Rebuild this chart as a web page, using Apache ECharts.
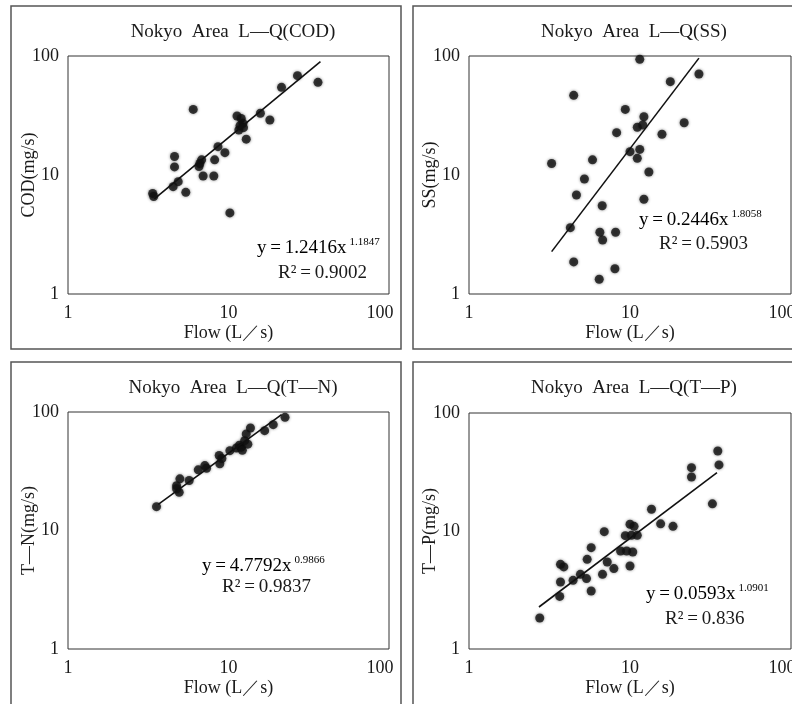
<!DOCTYPE html>
<html><head><meta charset="utf-8">
<script src="https://cdn.jsdelivr.net/npm/echarts@6/dist/echarts.min.js"></script>
<style>html,body{margin:0;padding:0;background:#fff}#c{width:792px;height:704px}</style>
</head><body><div id="c"></div>
<script>
// ---- data ----
const axisTicks = [1, 10, 100];
const titles = ['Nokyo  Area  L\u2014Q(COD)', 'Nokyo  Area  L\u2014Q(SS)', 'Nokyo  Area  L\u2014Q(T\u2014N)', 'Nokyo  Area  L\u2014Q(T\u2014P)'];
const yNames = ['COD(mg/s)', 'SS(mg/s)', 'T\u2014N(mg/s)', 'T\u2014P(mg/s)'];
const xName = 'Flow (L\uff0fs)';

const codFlow = [3.37, 3.42, 4.61, 4.61, 4.52, 4.86, 5.42, 6.03, 6.63, 6.8, 6.95, 6.55, 8.1, 8.2, 8.6, 9.5, 10.2, 11.3, 11.6, 12.0, 12.3, 11.8, 12.4, 12.9, 15.8, 18.1, 21.4, 26.9, 36.1];
const codLoad = [7.0, 6.6, 14.3, 11.7, 7.98, 8.79, 7.15, 35.6, 12.5, 13.4, 9.8, 11.8, 9.8, 13.4, 17.3, 15.4, 4.8, 31.3, 23.9, 29.9, 27.2, 26.0, 25.0, 20.0, 33.0, 29.0, 54.5, 68.4, 60.1];
const codTrend = [[3.45, 6.3], [37.4, 89.6]];

const ssFlow = [11.5, 26.8, 17.8, 4.47, 9.35, 12.2, 21.7, 11.1, 12.0, 8.26, 15.8, 10.0, 11.5, 11.1, 5.85, 3.26, 13.1, 5.21, 4.65, 12.2, 6.72, 4.26, 6.50, 8.14, 6.76, 4.47, 8.06, 6.44];
const ssLoad = [93.7, 70.6, 60.9, 46.7, 35.6, 30.9, 27.5, 25.2, 26.3, 22.7, 22.0, 15.7, 16.4, 13.8, 13.4, 12.5, 10.6, 9.25, 6.79, 6.25, 5.52, 3.61, 3.30, 3.30, 2.84, 1.86, 1.63, 1.33];
const ssTrend = [[3.26, 2.27], [26.8, 96]];

const tnFlow = [3.56, 4.75, 4.98, 4.93, 4.75, 5.69, 6.48, 7.12, 7.3, 8.75, 8.83, 9.1, 10.2, 11.2, 12.0, 11.7, 12.6, 12.9, 12.2, 13.2, 13.7, 16.8, 19.0, 22.5];
const tnLoad = [15.9, 23.9, 27.3, 21.0, 22.5, 26.4, 32.5, 35.3, 33.5, 42.9, 36.5, 40.5, 47.2, 49.7, 50.5, 52.5, 57.3, 65.3, 47.5, 53.5, 73.3, 69.6, 78.2, 90.2];
const tnTrend = [[3.65, 16.6], [21.4, 95.0]];

const tpFlow = [2.75, 3.66, 3.70, 3.70, 3.88, 4.43, 4.92, 5.37, 5.42, 5.74, 5.74, 6.75, 6.92, 7.22, 7.94, 8.74, 9.35, 9.53, 10.0, 10.0, 10.4, 10.2, 10.6, 11.1, 13.6, 15.5, 18.5, 24.1, 24.1, 32.5, 35.1, 35.7];
const tpLoad = [1.83, 2.79, 3.70, 5.22, 4.96, 3.82, 4.29, 3.95, 5.75, 3.10, 7.22, 4.29, 9.87, 5.46, 4.80, 6.77, 9.13, 6.77, 5.05, 11.4, 6.64, 9.19, 10.95, 9.19, 15.3, 11.5, 10.95, 34.4, 28.7, 17.0, 47.6, 36.3];
const tpTrend = [[2.72, 2.27], [34.7, 31.2]];

const eqMain = ['y\u2009=\u20091.2416x', 'y\u2009=\u20090.2446x', 'y\u2009=\u20094.7792x', 'y\u2009=\u20090.0593x'];
const eqExp = ['1.1847', '1.8058', '0.9866', '1.0901'];
const eqR2 = ['R\u00b2\u2009=\u20090.9002', 'R\u00b2\u2009=\u20090.5903', 'R\u00b2\u2009=\u20090.9837', 'R\u00b2\u2009=\u20090.836'];

// ---- layout ----
const FONT = '"Liberation Serif", "Times New Roman", serif';
const grids = [
  {left: 68, top: 56, width: 321, height: 238},
  {left: 469, top: 56, width: 322, height: 238},
  {left: 68, top: 412, width: 321, height: 237},
  {left: 469, top: 413, width: 322, height: 236}
];
const titlePos = [[228, 18], [629, 18], [228, 374], [629, 374]];
const eqPos = [[257, 248, 278, 273], [639, 220, 659, 244], [202, 566, 222, 587], [646, 594, 665, 619]];
const boxes = [[11, 6, 390, 343], [413, 6, 400, 343], [11, 362, 390, 360], [413, 362, 400, 360]];

const scatterSets = [[codFlow, codLoad], [ssFlow, ssLoad], [tnFlow, tnLoad], [tpFlow, tpLoad]];
const trends = [codTrend, ssTrend, tnTrend, tpTrend];

const zip = (a, b) => a.map((v, i) => [v, b[i]]);

const option = {
  animation: false,
  backgroundColor: '#fff',
  title: titles.map((t, i) => ({
    text: t, left: titlePos[i][0], top: titlePos[i][1], textAlign: 'center',
    textStyle: {fontFamily: FONT, fontSize: 19, fontWeight: 'normal', color: '#1a1a1a'}
  })),
  grid: grids.map(g => Object.assign({show: true, borderColor: '#333', borderWidth: 1, backgroundColor: 'transparent', containLabel: false, outerBoundsMode: 'none'}, g)),
  xAxis: grids.map((g, i) => ({
    type: 'log', logBase: 10, min: axisTicks[0], max: axisTicks[2], gridIndex: i,
    name: xName, nameLocation: 'middle', nameGap: 30, nameMoveOverlap: false,
    nameTextStyle: {fontFamily: FONT, fontSize: 18, color: '#1a1a1a'},
    axisLine: {show: false}, axisTick: {show: false}, splitLine: {show: false},
    axisLabel: {
      fontFamily: FONT, fontSize: 18, color: '#1a1a1a', margin: 10, showMaxLabel: true, showMinLabel: true,
      formatter: v => (v === axisTicks[2] ? '{r|' + v + '}' : '' + v),
      rich: {r: {fontFamily: FONT, fontSize: 18, color: '#1a1a1a', padding: [0, 18, 0, 0]}}
    }
  })),
  yAxis: grids.map((g, i) => ({
    type: 'log', logBase: 10, min: axisTicks[0], max: axisTicks[2], gridIndex: i,
    name: yNames[i], nameLocation: 'middle', nameGap: 30, nameRotate: 90, nameMoveOverlap: false,
    nameTextStyle: {fontFamily: FONT, fontSize: 18, color: '#1a1a1a'},
    axisLine: {show: false}, axisTick: {show: false}, splitLine: {show: false},
    axisLabel: {fontFamily: FONT, fontSize: 18, color: '#1a1a1a', margin: 9}
  })),
  series: [].concat(
    scatterSets.map((s, i) => ({
      type: 'scatter', xAxisIndex: i, yAxisIndex: i, data: zip(s[0], s[1]),
      symbol: 'circle', symbolSize: 9,
      itemStyle: {color: '#111', shadowBlur: 3, shadowColor: 'rgba(0,0,0,0.6)'},
      z: 3
    })),
    trends.map((t, i) => ({
      type: 'line', xAxisIndex: i, yAxisIndex: i, data: t, showSymbol: false, symbol: 'none',
      lineStyle: {color: '#111', width: 1.6}, z: 4
    }))
  ),
  graphic: [].concat(
    boxes.map(b => ({
      type: 'rect', shape: {x: b[0], y: b[1], width: b[2], height: b[3]},
      style: {fill: 'none', stroke: '#555', lineWidth: 1.5}, z: 1, silent: true
    })),
    eqPos.map((p, i) => ({
      type: 'text', x: p[0], y: p[1],
      style: {
        text: '{a|' + eqMain[i] + '}{s|' + eqExp[i] + '}',
        verticalAlign: 'middle',
        rich: {
          a: {fontFamily: FONT, fontSize: 19, color: '#1a1a1a', lineHeight: 22},
          s: {fontFamily: FONT, fontSize: 11, color: '#1a1a1a', verticalAlign: 'top', padding: [0, 0, 0, 3]}
        }
      }, z: 5
    })),
    eqPos.map((p, i) => ({
      type: 'text', x: p[2], y: p[3],
      style: {text: eqR2[i], fontFamily: FONT, fontSize: 19, fill: '#1a1a1a', verticalAlign: 'middle'}, z: 5
    }))
  )
};

const chart = echarts.init(document.getElementById('c'), null, {renderer: 'canvas'});
chart.setOption(option);
</script>
</body></html>
